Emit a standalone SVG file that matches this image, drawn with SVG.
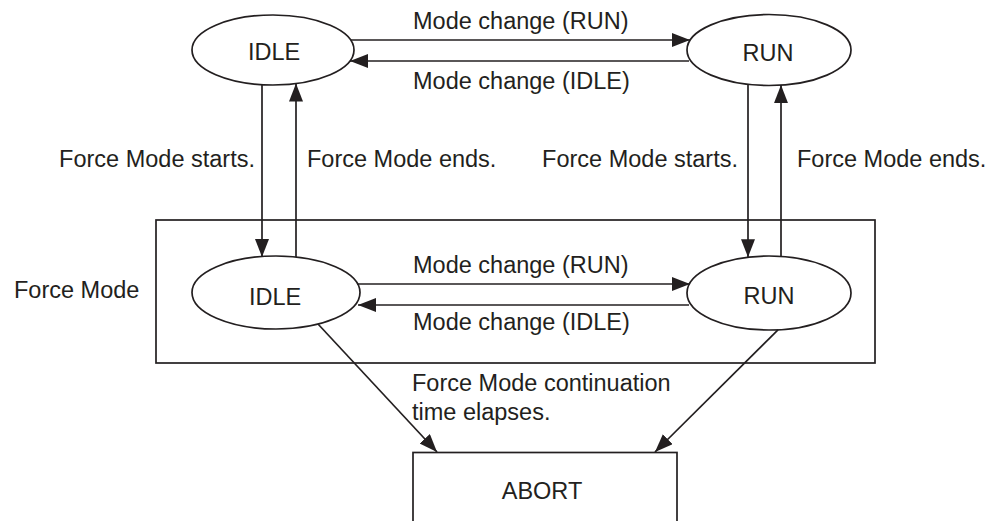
<svg xmlns="http://www.w3.org/2000/svg" width="999" height="521" viewBox="0 0 999 521">
<style>
.s{fill:none;stroke:#231f20;stroke-width:1.7}
.n{fill:#fff;stroke:#231f20;stroke-width:1.7}
text{font-family:"Liberation Sans",Arial,sans-serif;font-size:23.5px;fill:#231f20}
.c{text-anchor:middle}
</style>
<defs>
<marker id="ah" markerUnits="userSpaceOnUse" markerWidth="19" markerHeight="15" refX="18" refY="7" orient="auto">
<path d="M0,0 L18,7 L0,14 Z" fill="#231f20"/>
</marker>
</defs>
<rect width="999" height="521" fill="#fff"/>
<g id="force-mode-box">
<rect class="s" x="156" y="220" width="719" height="143"/>
<text x="14" y="298">Force Mode</text>
</g>
<g id="idle-top">
<ellipse class="n" cx="273" cy="50" rx="81" ry="35"/>
<text class="c" x="274" y="60">IDLE</text>
</g>
<g id="run-top">
<ellipse class="n" cx="769" cy="50" rx="82" ry="35.5"/>
<text class="c" x="768" y="60.5">RUN</text>
</g>
<g id="idle-force">
<ellipse class="n" cx="276" cy="292.5" rx="84" ry="36.5"/>
<text class="c" x="275" y="305">IDLE</text>
</g>
<g id="run-force">
<ellipse class="n" cx="769" cy="293" rx="82" ry="37"/>
<text class="c" x="769" y="304">RUN</text>
</g>
<g id="abort">
<rect class="s" x="413" y="452.5" width="264" height="90"/>
<text class="c" x="542" y="499">ABORT</text>
</g>
<g id="connectors">
<line class="s" x1="351" y1="40" x2="690" y2="40" marker-end="url(#ah)"/>
<line class="s" x1="689" y1="61" x2="350" y2="61" marker-end="url(#ah)"/>
<line class="s" x1="262" y1="84.7" x2="262" y2="257" marker-end="url(#ah)"/>
<line class="s" x1="296" y1="257" x2="296" y2="83.6" marker-end="url(#ah)"/>
<line class="s" x1="748" y1="84.3" x2="748" y2="257.2" marker-end="url(#ah)"/>
<line class="s" x1="781" y1="256.4" x2="781" y2="85.1" marker-end="url(#ah)"/>
<line class="s" x1="357" y1="284" x2="690" y2="284" marker-end="url(#ah)"/>
<line class="s" x1="689" y1="305" x2="358" y2="305" marker-end="url(#ah)"/>
<line class="s" x1="318" y1="324" x2="437" y2="452" marker-end="url(#ah)"/>
<line class="s" x1="778" y1="329.8" x2="655" y2="452" marker-end="url(#ah)"/>
<text x="413" y="29">Mode change (RUN)</text>
<text x="413" y="89">Mode change (IDLE)</text>
<text x="255" y="167" text-anchor="end">Force Mode starts.</text>
<text x="307" y="167">Force Mode ends.</text>
<text x="738" y="167" text-anchor="end">Force Mode starts.</text>
<text x="797" y="167">Force Mode ends.</text>
<text x="413" y="273">Mode change (RUN)</text>
<text x="413" y="330">Mode change (IDLE)</text>
<text x="412" y="391">Force Mode continuation</text>
<text x="412" y="420">time elapses.</text>
</g>
</svg>
